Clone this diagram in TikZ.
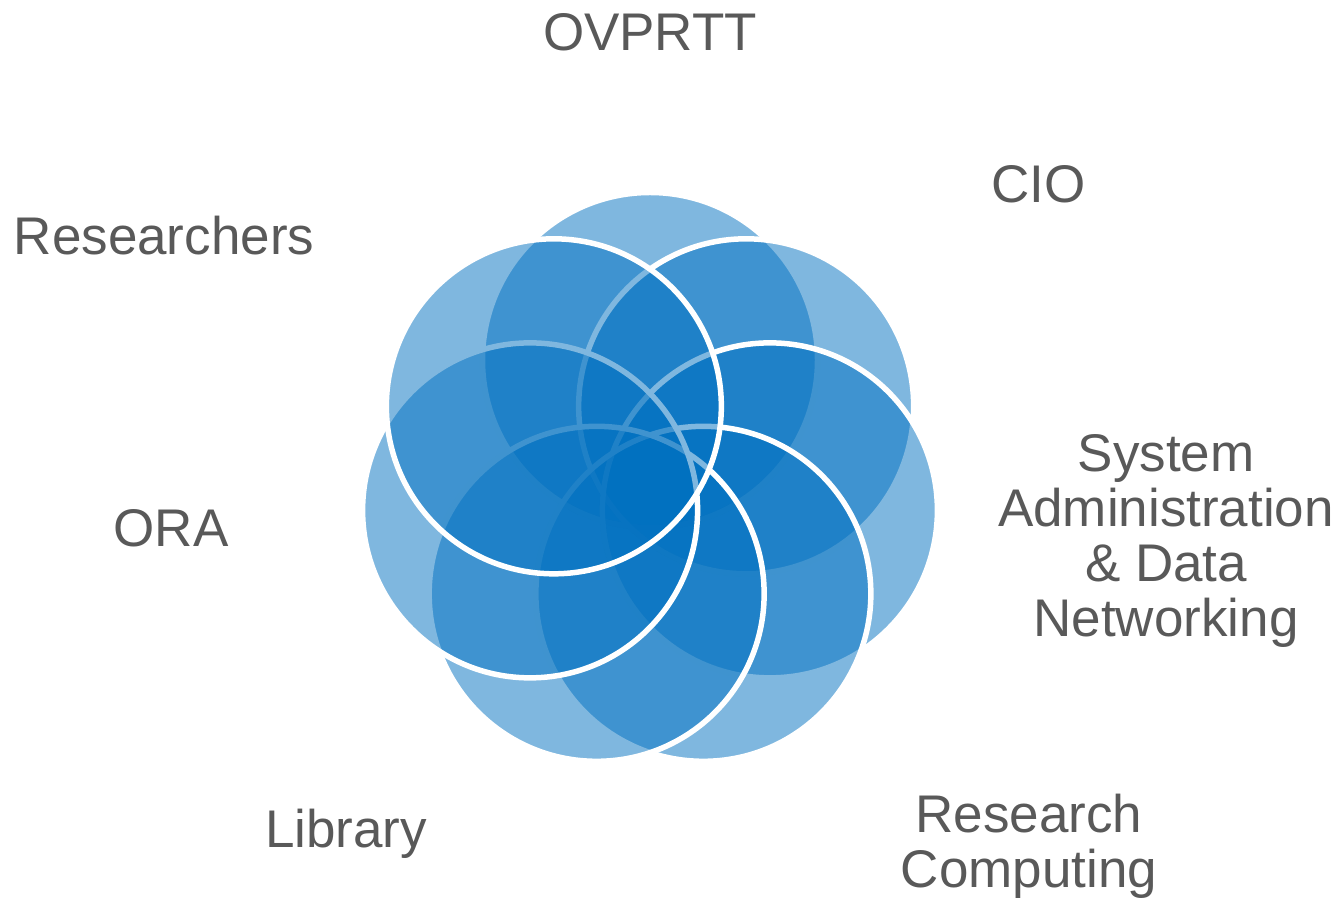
\documentclass[tikz,border=0pt]{standalone}
\usepackage{fontspec}
\setmainfont{Liberation Sans}
\usepackage{tikz}

\definecolor{petalblue}{HTML}{0070C0}
\definecolor{labelgray}{HTML}{595959}

\begin{document}
\begin{tikzpicture}[x=1pt,y=1pt]
    \tikzstyle{petal} = [
      circle,
      draw=white,
      line width=5.5pt,
      fill=petalblue,
      fill opacity=0.5,
      minimum size=335pt,
      inner sep=0pt,
    ]
    \tikzstyle{label} = [
      text=labelgray,
      font=\fontsize{53}{55}\selectfont,
      align=center,
      anchor=base,
      inner sep=0pt,
    ]

    \newcommand{\spread}[0]{123}

    \useasboundingbox (0,0) rectangle (1343,899);
    \coordinate (hub) at (650,416);

    % petals, drawn in order so the later white rims stay crisp
    \foreach \name/\ang in {ovprtt/90, cio/38.57, sysadmin/-12.86, rescomp/-64.29,
                            library/-115.71, ora/-167.14, researchers/141.43}
      \node[petal] (\name) at ([shift={(\ang:\spread)}] hub) {};

    % base of a multi-line label sits on its last line
    \node[label] (lovprtt) at (650,848.3) {OVPRTT};
    \node[label] (lcio) at (1038.5,696) {CIO};
    \node[label] (lsysadmin) at (1166,262) {System\\Administration\\\& Data\\Networking};
    \node[label] (lrescomp) at (1029,12) {Research\\Computing};
    \node[label] (llibrary) at (346,52) {Library};
    \node[label] (lora) at (171,352) {ORA};
    \node[label] (lresearchers) at (164,644) {Researchers};
\end{tikzpicture}
\end{document}
